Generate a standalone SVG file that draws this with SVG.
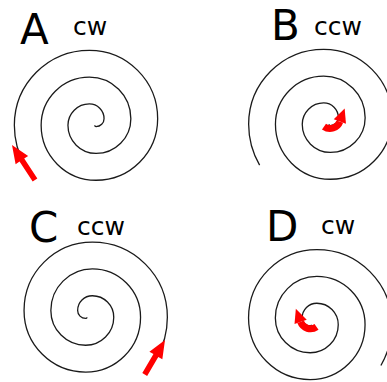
<svg xmlns="http://www.w3.org/2000/svg" xmlns:xlink="http://www.w3.org/1999/xlink" width="387" height="382" viewBox="0 0 387 382">
<style>
.big{font-family:"DejaVu Sans",sans-serif;font-size:42px;fill:#000}
.small{font-family:"DejaVu Sans",sans-serif;font-size:25px;fill:#000}
.spiral{fill:none;stroke:#1a1a1a;stroke-width:1.3}
.arrow{fill:#ff0000;stroke:none}
.shaft{fill:none;stroke:#ff0000;stroke-width:7}
</style>
<defs>
<path id="sp" class="spiral" d="M2.05,3.35 A1.3,1.3 0 0 0 3.35,4.65 A8,8 0 0 0 11.35,-3.35 A14.7,14.7 0 0 0 -3.35,-18.05 A21.4,21.4 0 0 0 -24.75,3.35 A28.1,28.1 0 0 0 3.35,31.45 A34.8,34.8 0 0 0 38.15,-3.35 A41.5,41.5 0 0 0 -3.35,-44.85 A48.2,48.2 0 0 0 -51.55,3.35 A54.9,54.9 0 0 0 3.35,58.25 A61.6,61.6 0 0 0 64.95,-3.35 A68.3,68.3 0 0 0 -3.35,-71.65 A75,75 0 0 0 -78.35,3.35 A81.7,81.7 0 0 0 -67.4,44.2"/>
<g id="ca">
<path class="shaft" d="M-3.02,5.6 A10.5,10.5 0 0 0 12.87,0.59"/>
<polygon class="arrow" points="18.98,2.81 6.76,-1.63 17.66,-12.57"/>
</g>
</defs>
<g id="panel-A">
<text class="big" x="20" y="44">A</text>
<text class="small" x="73" y="34.5">cw</text>
<use href="#sp" xlink:href="#sp" transform="translate(92.7,122)"/>
<polygon class="arrow" points="12,145 28.14,155.91 24.22,158.49 37.34,178.46 32.66,181.54 19.54,161.57 15.62,164.15"/>
</g>
<g id="panel-B">
<text class="big" x="271" y="40">B</text>
<text class="small" x="314" y="35">ccw</text>
<use href="#sp" xlink:href="#sp" transform="translate(327,121)"/>
<use href="#ca" xlink:href="#ca" transform="translate(327,121)"/>
</g>
<g id="panel-C">
<text class="big" x="29" y="242">C</text>
<text class="small" x="77" y="235">ccw</text>
<use href="#sp" xlink:href="#sp" transform="translate(89,313.8) scale(-1,1)"/>
<polygon class="arrow" points="165,340 162.34,359.32 158.28,356.94 147.13,375.9 142.31,373.06 153.46,354.1 149.4,351.72"/>
</g>
<g id="panel-D">
<text class="big" x="266" y="241">D</text>
<text class="small" x="321" y="234">cw</text>
<use href="#sp" xlink:href="#sp" transform="translate(313.5,321.3) scale(-1,1)"/>
<use href="#ca" xlink:href="#ca" transform="translate(313.5,321.3) scale(-1,1)"/>
</g>
</svg>
